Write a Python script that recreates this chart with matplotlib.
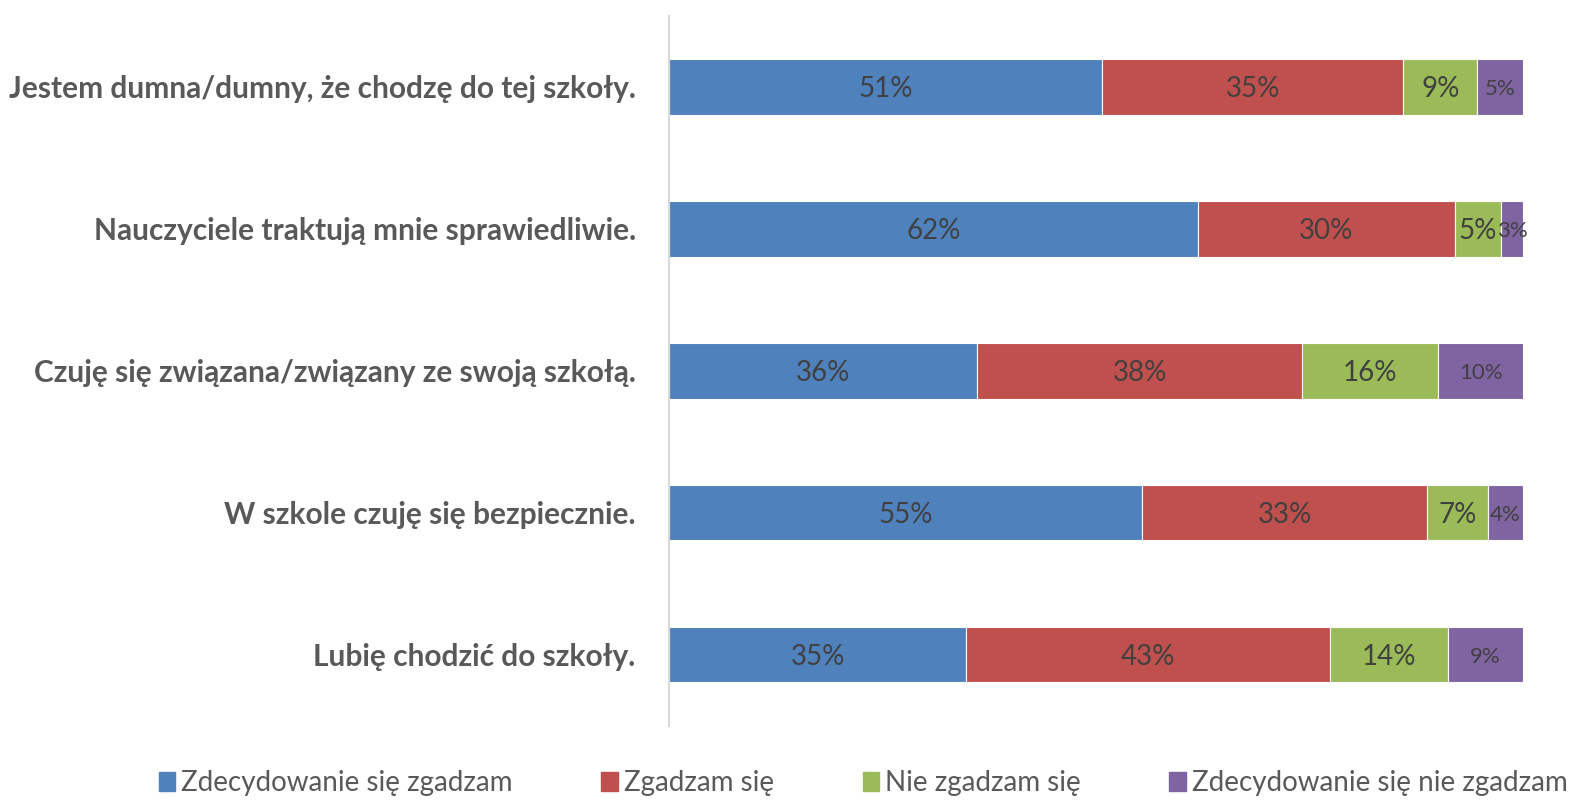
import numpy as np
from matplotlib import pyplot as plt
from matplotlib.patches import Patch

plt.rcParams['font.family'] = ['Lato', 'DejaVu Sans']

statements = ["Jestem dumna/dumny, że chodzę do tej szkoły.",
              "Nauczyciele traktują mnie sprawiedliwie.",
              "Czuję się związana/związany ze swoją szkołą.",
              "W szkole czuję się bezpiecznie.",
              "Lubię chodzić do szkoły."]
series_names = ["Zdecydowanie się zgadzam", "Zgadzam się", "Nie zgadzam się", "Zdecydowanie się nie zgadzam"]
strongly_agree = [50.7, 61.9, 36.1, 55.4, 34.8]
agree = [35.3, 30.1, 38.0, 33.4, 42.6]
disagree = [8.6, 5.4, 16.0, 7.1, 13.8]
strongly_disagree = [5.4, 2.6, 9.9, 4.1, 8.8]
colors = ["#4f81bd", "#c0504d", "#9bbb59", "#8064a2"]

fig = plt.figure(figsize=(15.75, 8.01), dpi=100)
ax = fig.add_axes([0.4248, 0.094, 0.5422, 0.886])

y = np.arange(len(statements))
left = np.zeros(len(statements))
for i, vals in enumerate([strongly_agree, agree, disagree, strongly_disagree]):
    vals = np.array(vals)
    ax.barh(y, vals, left=left, height=0.39, color=colors[i], edgecolor="white", linewidth=0.8)
    for yy, l, v in zip(y, left, vals):
        fs = 16 if i == 3 else 20
        ax.text(l + v / 2, yy, "{:.0f}%".format(v), ha="center", va="center_baseline",
                fontsize=fs, color="#404040")
    left += vals

ax.set_xlim(0, 100)
ax.set_ylim(len(statements) - 0.5, -0.5)
ax.set_yticks(y)
ax.set_yticklabels(statements, fontsize=21.5, fontweight="bold", color="#595959")
ax.tick_params(axis="y", length=0, pad=24)
ax.set_xticks([])
for s in ["top", "right", "bottom"]:
    ax.spines[s].set_visible(False)
ax.spines["left"].set_color("#d9d9d9")
ax.spines["left"].set_linewidth(1.5)

handles = [Patch(color=c) for c in colors]
fig.legend(handles, series_names, loc="center", bbox_to_anchor=(0.548, 0.022), ncol=4,
           frameon=False, fontsize=20, handlelength=0.6, handleheight=0.7, handletextpad=0.2,
           columnspacing=3.2, labelcolor="#595959")

plt.savefig("out.png", dpi=100)
